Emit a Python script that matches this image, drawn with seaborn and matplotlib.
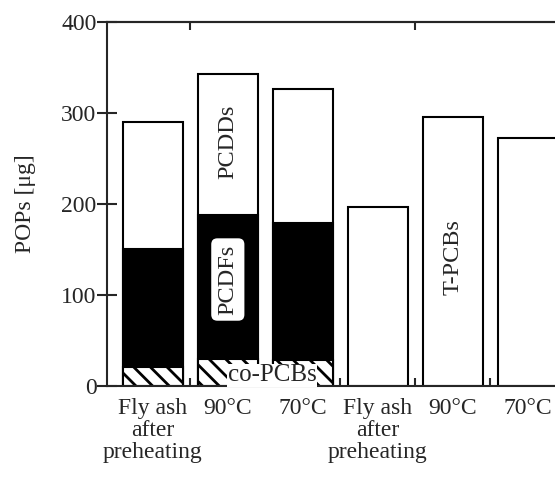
import numpy as np
import pandas as pd
import seaborn as sns
import matplotlib
matplotlib.use("Agg")
import matplotlib.pyplot as plt

# values [ug]
sample_ids = ["fa1", "c90a", "c70a", "fa2", "c90b", "c70b"]
tick_labels = ["Fly ash\nafter\npreheating", "90°C", "70°C",
               "Fly ash\nafter\npreheating", "90°C", "70°C"]
co_pcbs = [21, 30, 28.5]
pcdfs = [129.5, 158, 150.5]
pcdds = [139.5, 155, 147]
t_pcbs = [197, 296, 272.5]

sns.set_style("ticks")
plt.rcParams["font.family"] = ["Liberation Serif", "DejaVu Serif"]
plt.rcParams["hatch.linewidth"] = 2.0
plt.rcParams["axes.linewidth"] = 1.5

# stacked tops for the first group, then the T-PCBs group
dioxin_ids = sample_ids[:3]
pcb_ids = sample_ids[3:]
low = np.array(co_pcbs)
mid = low + np.array(pcdfs)
top = mid + np.array(pcdds)

df_top = pd.DataFrame({"sample": dioxin_ids + pcb_ids,
                       "value": list(top) + t_pcbs})
df_mid = pd.DataFrame({"sample": dioxin_ids, "value": mid})
df_low = pd.DataFrame({"sample": dioxin_ids, "value": low})

fig = plt.figure(figsize=(5.55, 4.78), dpi=100)
ax = fig.add_axes([0.1928, 0.1925, 0.8072, 0.7615])

bar_kw = dict(order=sample_ids, width=0.8, saturation=1, errorbar=None,
              edgecolor="black", linewidth=1.5, ax=ax)
sns.barplot(data=df_top, x="sample", y="value", color="white", **bar_kw)
sns.barplot(data=df_mid, x="sample", y="value", color="black", **bar_kw)
n_before = len(ax.patches)
sns.barplot(data=df_low, x="sample", y="value", color="white", **bar_kw)
for p in ax.patches[n_before:]:
    p.set_hatch("\\\\")

# labels inside the bars
ax.text(1, 268, "PCDDs", rotation=90, ha="center", va="center", fontsize=17.5)
ax.text(1, 117, "PCDFs", rotation=90, ha="center", va="center", fontsize=17.5,
        bbox=dict(boxstyle="round,pad=0.25", fc="white", ec="none"))
ax.text(1.59, 12, "co-PCBs", ha="center", va="center", fontsize=18,
        bbox=dict(boxstyle="square,pad=0.02", fc="white", ec="none"))
ax.text(4, 142, "T-PCBs", rotation=90, ha="center", va="center", fontsize=17.5)

ax.set_xlim(-0.61, 5.36)
ax.set_ylim(0, 400)
ax.set_yticks([0, 100, 200, 300, 400])
ax.set_xticks(range(6))
ax.set_xticklabels(tick_labels, fontsize=17, linespacing=1.05)
ax.set_xticks([0.5, 1.5, 2.5, 3.5, 4.5], minor=True)
ax.tick_params(axis="x", which="major", length=0, pad=9)
ax.tick_params(axis="x", which="minor", direction="in", length=6, width=1.5)
ax.tick_params(axis="y", direction="inout", length=14, width=1.5,
               labelsize=17, pad=0.5)
ax.set_xlabel("")
ax.set_ylabel("POPs [μg]", fontsize=17, labelpad=18)

for s in ["top", "left", "bottom"]:
    ax.spines[s].set_visible(True)
ax.spines["right"].set_visible(False)

secax = ax.secondary_xaxis("top")
secax.set_xticks([0.5, 3.5])
secax.tick_params(direction="in", length=6, width=1.5, labeltop=False)
secax.spines["top"].set_linewidth(1.5)

fig.savefig("out.png", dpi=100)
